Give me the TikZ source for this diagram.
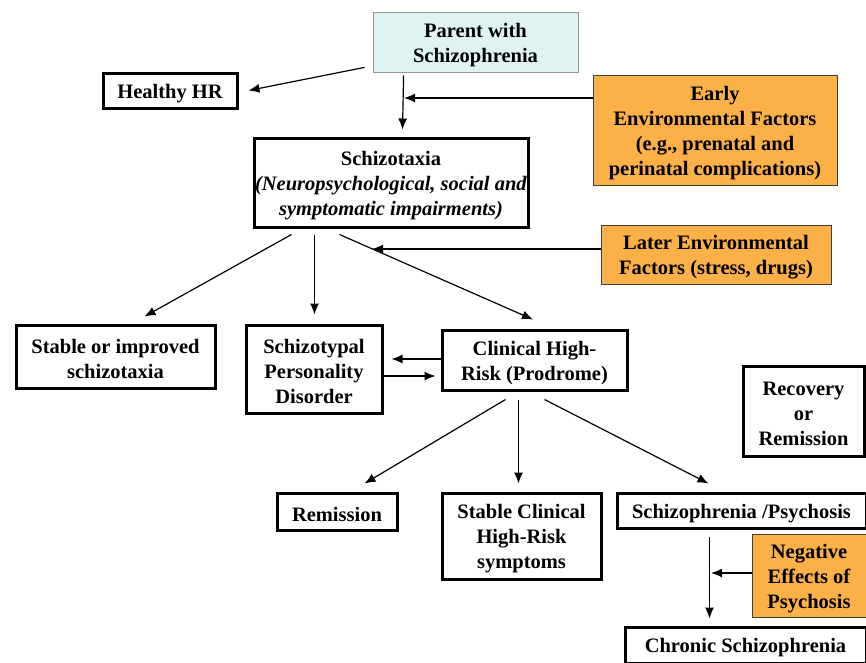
\documentclass[tikz,border=0pt]{standalone}
\usepackage{fontspec}
\setmainfont{Liberation Serif}
\usetikzlibrary{arrows.meta,calc}
\definecolor{orangebox}{RGB}{251,176,72}
\definecolor{cyanbox}{RGB}{224,243,243}
\definecolor{greyline}{RGB}{150,150,150}
\newcommand{\tstrut}{\rule{0pt}{19.5pt}}
\tikzset{
  txt/.style={inner sep=0pt, align=center, font=\bfseries\fontsize{20.5}{25}\selectfont},
  box/.style={txt, draw, line width=3pt},
  envbox/.style={txt, draw=black!75, line width=0.8pt, fill=orangebox},
  parentbox/.style={txt, draw=greyline, line width=0.8pt, fill=cyanbox},
  arr/.style={line width=1.2pt, -{Latex[length=11pt,width=9pt]}}
}
\begin{document}
\begin{tikzpicture}[x=1pt,y=-1pt]
\useasboundingbox (0,0) rectangle (866,662);
% nodes
\node[parentbox, minimum width=205, minimum height=60] (parent) at (475.5,42) {\tstrut Parent with\\Schizophrenia};
\node[box, minimum width=134, minimum height=35] (healthy) at (170,90.5) {\tstrut Healthy HR};
\node[envbox, minimum width=244, minimum height=110] (early) at (715,130) {\tstrut Early\\Environmental Factors\\(e.g., prenatal and\\perinatal complications)};
\node[box, minimum width=274, minimum height=89] (schizotaxia) at (391,182.5) {\tstrut Schizotaxia\\\textit{(Neuropsychological, social and}\\\textit{symptomatic impairments)}};
\node[envbox, minimum width=230, minimum height=59] (later) at (716,254.5) {\tstrut Later Environmental\\Factors (stress, drugs)};
\node[box, minimum width=199, minimum height=63] (stable) at (115.5,356.5) {\tstrut Stable or improved\\schizotaxia};
\node[box, minimum width=136, minimum height=88] (schizotypal) at (314,369) {\tstrut Schizotypal\\Personality\\Disorder};
\node[box, minimum width=185, minimum height=60] (clinical) at (534.5,360) {\tstrut Clinical High-\\Risk (Prodrome)};
\node[box, minimum width=121, minimum height=90] (recovery) at (803.5,411) {\tstrut Recovery\\or\\Remission};
\node[box, minimum width=120, minimum height=37] (remission) at (337,511.5) {\tstrut Remission};
\node[box, minimum width=159, minimum height=86] (stablechr) at (521.5,536) {\tstrut Stable Clinical\\High-Risk\\symptoms};
\node[box, minimum width=249, minimum height=35] (schizpsy) at (741.5,510.5) {\tstrut Schizophrenia /Psychosis};
\node[envbox, minimum width=114, minimum height=83] (negative) at (809,575.5) {\tstrut Negative\\Effects of\\Psychosis};
\node[box, minimum width=241, minimum height=36] (chronic) at (745.5,645) {\tstrut Chronic Schizophrenia};
% junction coordinates
\coordinate (j1) at (404,98);
\coordinate (j2) at (372,249);
\coordinate (j3) at (711,573);
% connectors
\draw[arr] ($(parent.south west)+(-8,-5)$) -- ($(healthy.east)+(10,0)$);
\draw[arr] ($(parent.south west)+(31,3)$) -- ($(schizotaxia.north west)+(150,-7)$);
\draw[arr] (early.west |- j1) -- (j1);
\draw[arr] ($(schizotaxia.south west)+(39,6)$) -- ($(stable.north west)+(130,-7)$);
\draw[arr] ($(schizotaxia.south west)+(62,6)$) -- ($(schizotypal.north west)+(70,-9)$);
\draw[arr] ($(schizotaxia.south west)+(87,6)$) -- ($(clinical.north)+(-1.5,-9)$);
\draw[arr] (later.west |- j2) -- (j2);
\draw[arr] (clinical.west |- 0,359) -- ($(schizotypal.east)+(8,-10)$);
\draw[arr] ($(schizotypal.east)+(0,7)$) -- ($(clinical.west)+(-5,16)$);
\draw[arr] ($(clinical.south west)+(65,8)$) -- ($(remission.north east)+(-34,-8)$);
\draw[arr] ($(clinical.south west)+(78,8)$) -- ($(stablechr.north west)+(78,-8)$);
\draw[arr] ($(clinical.south west)+(104,8)$) -- ($(schizpsy.north west)+(93,-8)$);
\draw[arr] ($(schizpsy.south west)+(94,7)$) -- ($(chronic.north west)+(86,-7)$);
\draw[arr] (negative.west |- j3) -- (j3);
\end{tikzpicture}
\end{document}
